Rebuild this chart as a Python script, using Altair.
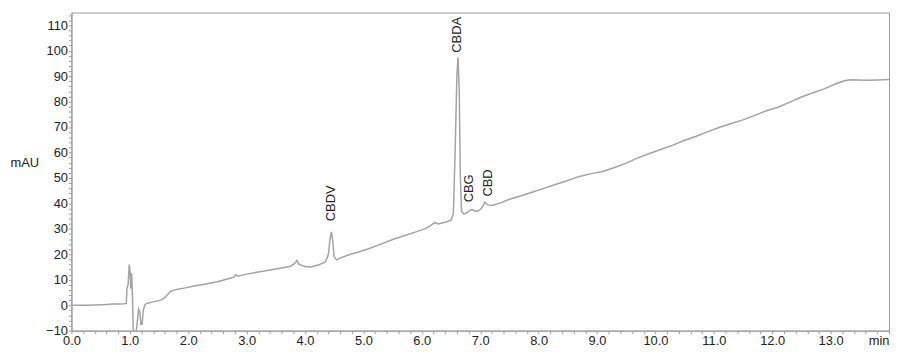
import altair as alt
import pandas as pd

# Chromatogram trace (time in min, absorbance in mAU)
times = [0.00, 0.30, 0.50, 0.60, 0.70, 0.80, 0.90, 0.94, 0.95, 0.97, 0.99, 1.005, 1.015, 1.03, 1.045,
         1.06, 1.10, 1.13, 1.15, 1.17, 1.19, 1.21, 1.23, 1.26, 1.30, 1.40, 1.50, 1.58, 1.64, 1.70,
         1.80, 1.95, 2.10, 2.30, 2.50, 2.70, 2.78, 2.81, 2.85, 3.00, 3.20, 3.40, 3.60, 3.75, 3.82,
         3.86, 3.90, 4.00, 4.10, 4.25, 4.35, 4.40, 4.43, 4.45, 4.47, 4.50, 4.54, 4.60, 4.75, 4.90,
         5.10, 5.30, 5.50, 5.70, 5.90, 6.05, 6.15, 6.22, 6.28, 6.40, 6.50, 6.54, 6.57, 6.60, 6.62,
         6.64, 6.66, 6.68, 6.72, 6.78, 6.84, 6.88, 6.95, 7.02, 7.08, 7.13, 7.20, 7.35, 7.50, 7.70,
         7.90, 8.10, 8.30, 8.50, 8.70, 8.90, 9.10, 9.30, 9.50, 9.70, 9.90, 10.10, 10.30, 10.50, 10.70,
         10.90, 11.10, 11.30, 11.50, 11.70, 11.90, 12.10, 12.30, 12.50, 12.70, 12.90, 13.10, 13.25, 13.35,
         13.60, 13.80, 14.00]
mau = [0.0, 0.0, 0.2, 0.3, 0.5, 0.5, 0.6, 0.7, 6.5, 8.0, 16.0, 13.0, 6.5, 12.5, 4.0,
       -12.0, -12.0, -6.0, -1.5, -2.5, -7.5, -7.5, -2.0, 0.3, 0.8, 1.3, 1.8, 2.6, 4.0, 5.5,
       6.2, 6.8, 7.5, 8.3, 9.2, 10.5, 11.0, 12.0, 11.4, 12.2, 13.0, 13.8, 14.6, 15.3, 16.3,
       17.5, 16.0, 15.2, 15.0, 16.0, 17.0, 20.0, 26.5, 28.8, 26.0, 19.0, 17.8, 18.5, 19.8, 20.8,
       22.3, 24.0, 25.8, 27.3, 28.8, 30.0, 31.3, 32.5, 31.9, 32.6, 33.4, 36.0, 60.0, 90.0, 97.4,
       85.0, 50.0, 37.0, 35.8, 36.5, 37.6, 37.3, 36.8, 38.0, 40.5, 39.4, 39.2, 40.2, 41.6, 43.0,
       44.5, 46.0, 47.5, 49.0, 50.6, 51.7, 52.5, 54.1, 55.8, 57.9, 59.6, 61.3, 62.9, 64.8, 66.4,
       68.2, 69.9, 71.4, 72.8, 74.6, 76.4, 77.8, 79.8, 81.8, 83.5, 85.1, 87.1, 88.3, 88.6,
       88.4, 88.5, 88.7]

# Peak annotations
peak_names = ["CBDV", "CBDA", "CBG", "CBD"]
peak_times = [4.44, 6.61, 6.81, 7.13]
peak_label_mau = [33.0, 99.2, 40.4, 42.7]

# Axis ticks
x_ticks = [round(i * 0.2, 1) for i in range(0, 71)]
y_ticks = list(range(-10, 115, 2))

FONT = "Liberation Sans"
GREY = "#9a9a9a"
TEXT = "#222222"

trace = pd.DataFrame({"t": times, "v": mau})
peaks = pd.DataFrame({"name": peak_names, "t": peak_times, "v": peak_label_mau})

x_enc = alt.X(
    "t:Q",
    scale=alt.Scale(domain=[0, 14], nice=False, zero=False),
    axis=alt.Axis(
        values=x_ticks,
        labelExpr="datum.value >= 13.99 ? 'min' : (abs(datum.value - round(datum.value)) < 0.001 ? format(datum.value, '.1f') : '')",
        labelAlign={"condition": {"test": "datum.value >= 13.99", "value": "right"}, "value": "center"},
        title=None, grid=False, tickSize=3, labelPadding=1,
        labelFlush=False, labelOverlap=False, labelBound=False,
        labelFont=FONT, labelFontSize=13, labelColor=TEXT,
        domainColor=GREY, tickColor=GREY,
    ),
)
y_enc = alt.Y(
    "v:Q",
    scale=alt.Scale(domain=[-10, 115], nice=False, zero=False),
    axis=alt.Axis(
        values=y_ticks,
        labelExpr="datum.value % 10 == 0 ? datum.label : ''",
        title="mAU", titleAngle=0, titleAlign="left", titleBaseline="middle",
        titleX=-62, titleY=151, titleFont=FONT, titleFontSize=13,
        titleFontWeight="normal", titleColor=TEXT,
        grid=False, tickSize=3, labelPadding=1, labelOverlap=False,
        labelFont=FONT, labelFontSize=13, labelColor=TEXT,
        domainColor=GREY, tickColor=GREY,
    ),
)

line = alt.Chart(trace).mark_line(color="#a3a3a3", strokeWidth=1.5, clip=True).encode(
    x=x_enc, y=y_enc
)

labels = alt.Chart(peaks).mark_text(
    angle=270, align="left", baseline="middle", font=FONT, fontSize=13, color=TEXT
).encode(x=x_enc, y=y_enc, text="name:N")

chart = (
    alt.layer(line, labels)
    .properties(
        width=825,
        height=321,
        autosize=alt.AutoSizeParams(type="none"),
        padding={"left": 64, "top": 3, "right": 4, "bottom": 20},
    )
    .configure_view(stroke=GREY, strokeWidth=1)
    .configure_axis(labelOverlap=False)
)

chart.save("out.html", embed_options={"renderer": "svg", "actions": False})
